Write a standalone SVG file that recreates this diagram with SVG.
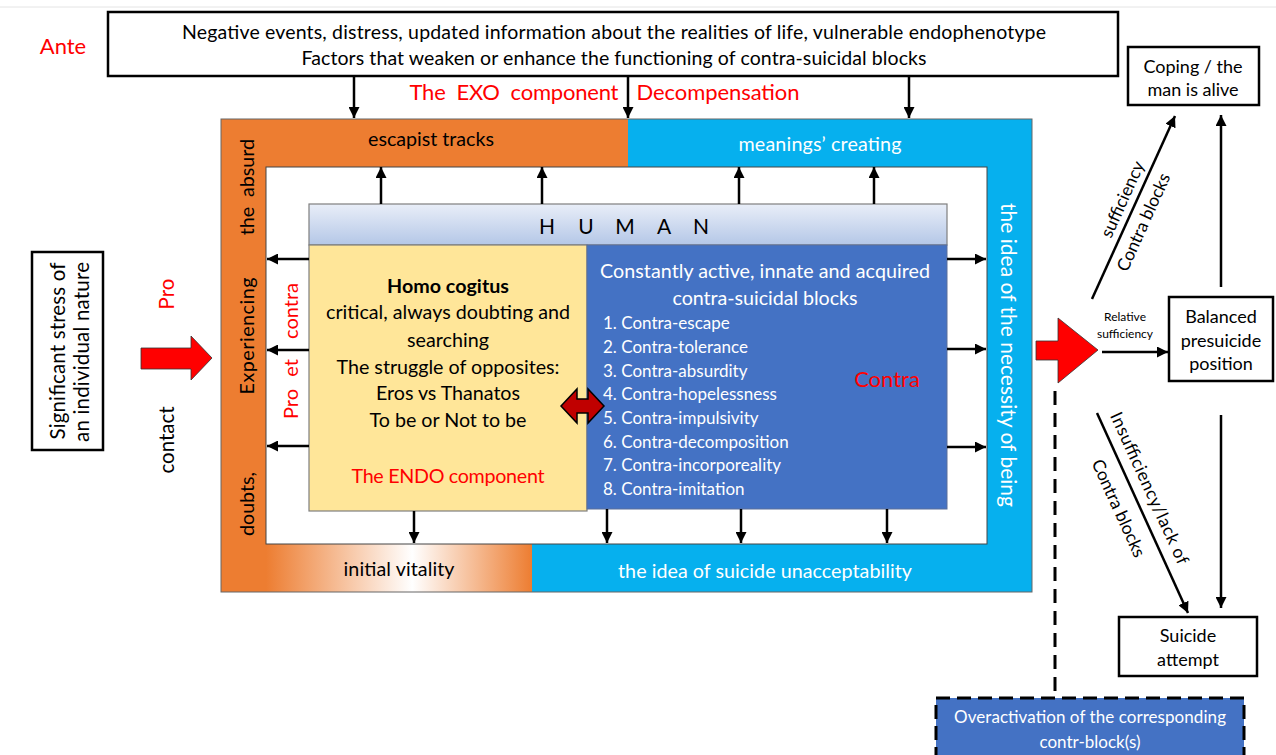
<svg xmlns="http://www.w3.org/2000/svg" width="1276" height="755" viewBox="0 0 1276 755">
<defs>
<marker id="ah" viewBox="0 0 10 10" refX="10" refY="5" markerWidth="11" markerHeight="11" markerUnits="userSpaceOnUse" orient="auto"><path d="M0,0 L10,5 L0,10 z" fill="#000"/></marker>
<linearGradient id="hum" x1="0" y1="0" x2="0" y2="1"><stop offset="0" stop-color="#E9EEF8"/><stop offset="1" stop-color="#B4C7E7"/></linearGradient>
<linearGradient id="vit" x1="0" y1="0" x2="1" y2="0"><stop offset="0" stop-color="#ED7D31"/><stop offset="0.55" stop-color="#FFFFFF"/><stop offset="1" stop-color="#ED7D31"/></linearGradient>
<style>
text{font-family:Lato,"Liberation Sans",sans-serif;font-size:19.7px;fill:#000;dominant-baseline:central;text-anchor:middle}
.w{fill:#fff}
.r{fill:#f00}
.m{font-size:18px}
.l{text-anchor:start;font-size:17px;fill:#fff}
.b{font-weight:bold}
.d{font-size:17.5px}
.box{fill:#fff;stroke:#000;stroke-width:2.5}
.c{stroke:#000;stroke-width:2.5;fill:none;marker-end:url(#ah)}
</style>
</defs>
<rect width="1276" height="755" fill="#fff"/>
<line x1="0" y1="7" x2="1276" y2="7" stroke="#e4e4e4" stroke-width="1"/>

<text class="r" x="63" y="45" style="font-size:22px">Ante</text>

<g id="top">
<rect class="box" x="108" y="12" width="1010" height="64"/>
<text x="614" y="31" textLength="864" style="font-size:19.5px">Negative events, distress, updated information about the realities of life, vulnerable endophenotype</text>
<text x="614" y="57" textLength="625" style="font-size:19.5px">Factors that weaken or enhance the functioning of contra-suicidal blocks</text>
</g>

<text class="r" x="514" y="91" xml:space="preserve" textLength="209" style="font-size:22px">The  EXO  component</text>
<text class="r" x="718" y="91" textLength="163" style="font-size:22px">Decompensation</text>

<g id="frame">
<rect x="221" y="119" width="407" height="48" fill="#ED7D31"/>
<rect x="221" y="119" width="45" height="473" fill="#ED7D31"/>
<rect x="628" y="119" width="404" height="48" fill="#06B0EE"/>
<rect x="987" y="119" width="45" height="473" fill="#06B0EE"/>
<rect x="532" y="544" width="500" height="48" fill="#06B0EE"/>
<rect x="266" y="544" width="266" height="48" fill="url(#vit)"/>
<rect x="221" y="119" width="811" height="473" fill="none" stroke="#666" stroke-width="1"/>
<rect x="266" y="167" width="721" height="377" fill="#fff" stroke="#444" stroke-width="1"/>
<text x="431" y="138" textLength="126">escapist tracks</text>
<text class="w" x="820" y="143" textLength="163">meanings’ creating</text>
<text x="399" y="568" textLength="111">initial vitality</text>
<text class="w" x="765" y="570" textLength="294">the idea of suicide unacceptability</text>
<text transform="translate(246,168) rotate(-90)">absurd</text>
<text transform="translate(246,221) rotate(-90)">the</text>
<text transform="translate(246,336) rotate(-90)" textLength="117">Experiencing</text>
<text transform="translate(246,504) rotate(-90)">doubts,</text>
<text class="w" transform="translate(1009,355) rotate(90)" textLength="304" style="font-size:21px">the idea of the necessity of being</text>
<text class="r" transform="translate(290,404) rotate(-90)" style="font-size:20px">Pro</text>
<text class="r" transform="translate(290,368) rotate(-90)" style="font-size:20px">et</text>
<text class="r" transform="translate(290,311) rotate(-90)" style="font-size:20px">contra</text>
</g>

<g id="human">
<rect x="309" y="204" width="638" height="41" fill="url(#hum)" stroke="#7f7f7f" stroke-width="1.2"/>
<text x="547" y="225" style="font-size:21px">H</text>
<text x="586" y="225" style="font-size:21px">U</text>
<text x="625" y="225" style="font-size:21px">M</text>
<text x="664" y="225" style="font-size:21px">A</text>
<text x="701" y="225" style="font-size:21px">N</text>
</g>

<g id="endo">
<rect x="309" y="245" width="278" height="266" fill="#FFE699" stroke="#7f7f7f" stroke-width="1.2"/>
<text class="b" x="448" y="285" textLength="122">Homo cogitus</text>
<text x="448" y="311" textLength="244">critical, always doubting and</text>
<text x="448" y="339" textLength="82">searching</text>
<text x="448" y="366" textLength="223">The struggle of opposites:</text>
<text x="448" y="392" textLength="144">Eros vs Thanatos</text>
<text x="448" y="419" textLength="157">To be or Not to be</text>
<text class="r" x="448" y="475" textLength="193">The ENDO component</text>
</g>

<g id="contra">
<rect x="587" y="245" width="360" height="264" fill="#4472C4" stroke="#5a6f9a" stroke-width="1"/>
<text class="w" x="765" y="270" textLength="330">Constantly active, innate and acquired</text>
<text class="w" x="765" y="297" textLength="185">contra-suicidal blocks</text>
<text class="l" x="603" y="322">1. Contra-escape</text>
<text class="l" x="603" y="346">2. Contra-tolerance</text>
<text class="l" x="603" y="370">3. Contra-absurdity</text>
<text class="l" x="603" y="393">4. Contra-hopelessness</text>
<text class="l" x="603" y="417">5. Contra-impulsivity</text>
<text class="l" x="603" y="441">6. Contra-decomposition</text>
<text class="l" x="603" y="464">7. Contra-incorporeality</text>
<text class="l" x="603" y="488">8. Contra-imitation</text>
<text class="r" x="887" y="378" style="font-size:22px">Contra</text>
</g>

<g id="dbl">
<polygon points="561,406 577,389 577,399 588,399 588,389 604,406 588,423 588,413 577,413 577,423" fill="#C00000" stroke="#000" stroke-width="1.5"/>
</g>

<g id="stress">
<rect class="box" x="32" y="252" width="71" height="198"/>
<text transform="translate(57,351) rotate(-90)" textLength="177" style="font-size:20.5px">Significant stress of</text>
<text transform="translate(81,352) rotate(-90)" textLength="180" style="font-size:20.5px">an individual nature</text>
</g>
<text class="r" transform="translate(166,294) rotate(-90)" style="font-size:20.5px">Pro</text>
<text transform="translate(166,440) rotate(-90)" style="font-size:20.5px">contact</text>
<g id="redarrow1"><polygon points="141,348 191,348 191,336 212,358 191,380 191,369 141,369" fill="#f00" stroke="#333" stroke-width="0.8"/></g>
<g id="redarrow2"><polygon points="1036,341 1058,341 1058,318 1098,350 1058,383 1058,360 1036,360" fill="#f00" stroke="#333" stroke-width="0.8"/></g>

<g id="coping">
<rect class="box" x="1128" y="47" width="131" height="58"/>
<text class="m" x="1193" y="66">Coping / the</text>
<text class="m" x="1193" y="89">man is alive</text>
</g>
<g id="balanced">
<rect class="box" x="1169" y="297" width="104" height="84"/>
<text class="m" x="1221" y="316">Balanced</text>
<text class="m" x="1221" y="340">presuicide</text>
<text class="m" x="1221" y="363">position</text>
</g>
<g id="suicide">
<rect class="box" x="1119" y="617" width="138" height="59"/>
<text class="m" x="1188" y="635">Suicide</text>
<text class="m" x="1188" y="659">attempt</text>
</g>
<g id="overact">
<rect x="936" y="698" width="308" height="70" fill="#4472C4" stroke="#000" stroke-width="3" stroke-dasharray="14 7"/>
<text class="w" x="1090" y="716" textLength="272" style="font-size:17px">Overactivation of the corresponding</text>
<text class="w" x="1090" y="741" textLength="101" style="font-size:17px">contr-block(s)</text>
</g>

<text x="1125" y="316" style="font-size:12px">Relative</text>
<text x="1125" y="333" style="font-size:12px">sufficiency</text>
<text class="d" transform="translate(1122,199) rotate(-65.6)">sufficiency</text>
<text class="d" transform="translate(1143,222) rotate(-65.6)">Contra blocks</text>
<text class="d" transform="translate(1150,488) rotate(65.5)" textLength="165">Insufficiency/lack of</text>
<text class="d" transform="translate(1119,508) rotate(65.5)">Contra blocks</text>

<g id="connectors">
<line class="c" x1="354" y1="76" x2="354" y2="118"/>
<line class="c" x1="628" y1="76" x2="628" y2="118"/>
<line class="c" x1="909" y1="76" x2="909" y2="118"/>
<line class="c" x1="381" y1="204" x2="381" y2="167"/>
<line class="c" x1="542" y1="204" x2="542" y2="167"/>
<line class="c" x1="739" y1="204" x2="739" y2="167"/>
<line class="c" x1="874" y1="204" x2="874" y2="167"/>
<line class="c" x1="309" y1="259" x2="267" y2="259"/>
<line class="c" x1="309" y1="350" x2="267" y2="350"/>
<line class="c" x1="309" y1="446" x2="267" y2="446"/>
<line class="c" x1="947" y1="259" x2="986" y2="259"/>
<line class="c" x1="947" y1="349" x2="986" y2="349"/>
<line class="c" x1="947" y1="447" x2="986" y2="447"/>
<line class="c" x1="414" y1="511" x2="414" y2="543"/>
<line class="c" x1="607" y1="509" x2="607" y2="543"/>
<line class="c" x1="741" y1="509" x2="741" y2="543"/>
<line class="c" x1="887" y1="509" x2="887" y2="543"/>
<line class="c" x1="1102" y1="352" x2="1168" y2="352"/>
<line class="c" x1="1092" y1="299" x2="1175" y2="116"/>
<line class="c" x1="1221" y1="287" x2="1221" y2="115"/>
<line class="c" x1="1097" y1="413" x2="1188" y2="613"/>
<line class="c" x1="1221" y1="415" x2="1221" y2="608"/>
<line x1="1055" y1="391" x2="1055" y2="697" stroke="#000" stroke-width="3" stroke-dasharray="14 8"/>
</g>
</svg>
